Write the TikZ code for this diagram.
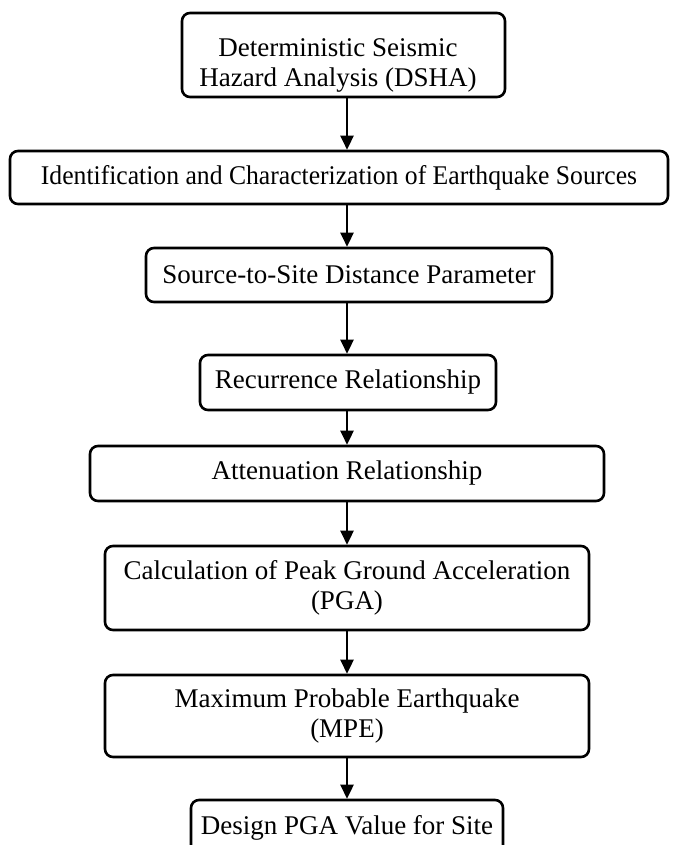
\documentclass[tikz,border=0pt]{standalone}
\usepackage{fontspec}
\setmainfont{Liberation Serif}
\usetikzlibrary{arrows.meta}
\begin{document}
\begin{tikzpicture}[x=1pt,y=-1pt,
  box/.style={draw, line width=2.6pt, rounded corners=8pt, inner sep=0pt, align=center,
    font=\fontsize{27pt}{30pt}\selectfont},
  txt/.style={inner sep=0pt, align=center, font=\fontsize{27pt}{30pt}\selectfont},
  arr/.style={line width=2.6pt, -{Triangle[length=14pt,width=13pt]}}]
\useasboundingbox (0,0) rectangle (673,845);
\coordinate (ax) at (347,0);
\node[box, minimum width=323pt, minimum height=84pt] (n1) at (343.5,55) {};
\node[txt] (t1) at (338,65) {Deterministic Seismic\\Hazard Analysis (DSHA)};
\node[box, minimum width=658pt, minimum height=53pt] (n2) at (339,177.5)
  {\scalebox{0.95}[1]{Identification and Characterization of Earthquake Sources}};
\node[box, minimum width=406pt, minimum height=54pt] (n3) at (349,275) {Source-to-Site Distance Parameter};
\node[box, minimum width=296pt, minimum height=55pt] (n4) at (348,382.5) {Recurrence Relationship};
\node[box, minimum width=514pt, minimum height=55pt] (n5) at (347,473.5) {Attenuation Relationship};
\node[box, minimum width=484pt, minimum height=84pt] (n6) at (347,588) {Calculation of Peak Ground Acceleration\\(PGA)};
\node[box, minimum width=484pt, minimum height=82pt] (n7) at (347,716) {Maximum Probable Earthquake\\(MPE)};
\node[box, minimum width=312pt, minimum height=55pt] (n8) at (347,827.5) {\raisebox{-3pt}{Design PGA Value for Site}};
\draw[arr] (n1.south -| ax) -- (n2.north -| ax);
\draw[arr] (n2.south -| ax) -- (n3.north -| ax);
\draw[arr] (n3.south -| ax) -- (n4.north -| ax);
\draw[arr] (n4.south -| ax) -- (n5.north -| ax);
\draw[arr] (n5.south -| ax) -- (n6.north -| ax);
\draw[arr] (n6.south -| ax) -- (n7.north -| ax);
\draw[arr] (n7.south -| ax) -- (n8.north -| ax);
\end{tikzpicture}
\end{document}
